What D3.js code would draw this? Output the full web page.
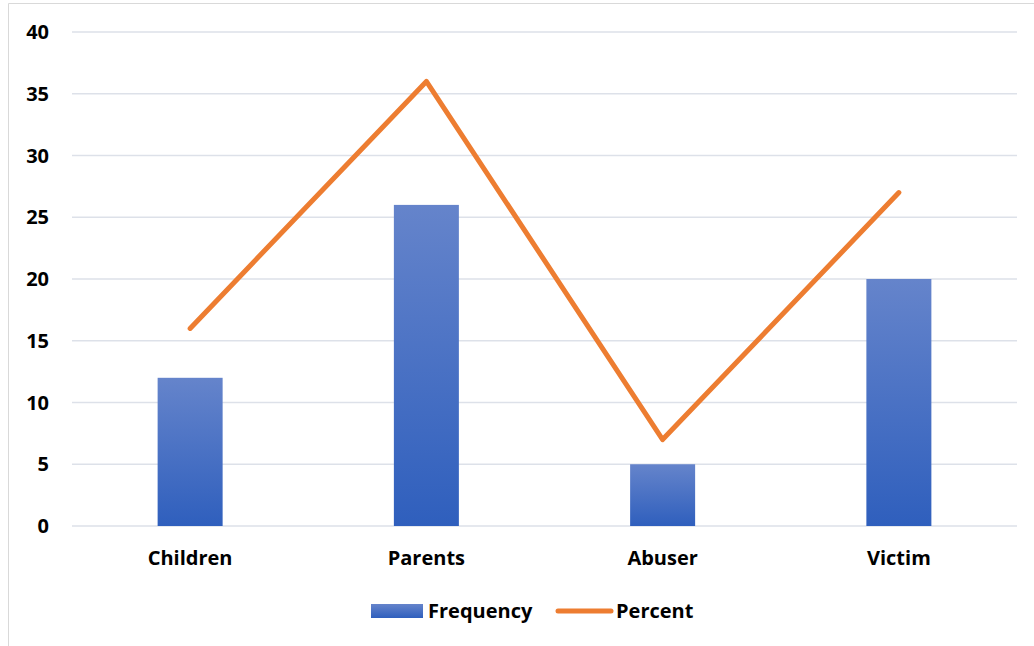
<!DOCTYPE html>
<html>
<head>
  <script src="https://d3js.org/d3.v7.min.js"></script>
  <style type="text/css">
    body { margin: 0; background: #fff; }
    text { font-family: "Open Sans", Lato, sans-serif; font-weight: bold; fill: #000; }
  </style>
</head>
<body>
<svg id="chart" width="1034" height="646"></svg>
<script type="text/javascript">
// chart data
const categories = ['Children', 'Parents', 'Abuser', 'Victim'];
const frequency = [12, 26, 5, 20];
const percent = [16, 36, 7, 27];
const yTicks = [0, 5, 10, 15, 20, 25, 30, 35, 40];

const svg = d3.select('#chart');

// outer frame (only top and left edges visible)
svg.append('path')
  .attr('d', 'M8.5,646 V3.5 H1034')
  .attr('fill', 'none')
  .attr('stroke', '#d9d9d9')
  .attr('stroke-width', 1);

const plotLeft = 72, plotRight = 1017, plotTop = 32, plotBottom = 526;

const x = d3.scaleBand().domain(categories).range([plotLeft, plotRight]);
const y = d3.scaleLinear().domain([0, 40]).range([plotBottom, plotTop]);

// gradient for bars
const defs = svg.append('defs');
const grad = defs.append('linearGradient')
  .attr('id', 'barGrad')
  .attr('x1', 0).attr('y1', 0).attr('x2', 0).attr('y2', 1);
grad.append('stop').attr('offset', '0%').attr('stop-color', '#6584cb');
grad.append('stop').attr('offset', '100%').attr('stop-color', '#2f5fbd');

// gridlines
svg.append('g')
  .selectAll('line')
  .data(yTicks)
  .enter()
  .append('line')
  .attr('x1', plotLeft)
  .attr('x2', plotRight)
  .attr('y1', d => y(d))
  .attr('y2', d => y(d))
  .attr('stroke', '#dde1e9')
  .attr('stroke-width', 1.5);

// y tick labels
svg.append('g')
  .selectAll('text')
  .data(yTicks)
  .enter()
  .append('text')
  .attr('x', 49)
  .attr('y', d => y(d))
  .attr('dy', '0.35em')
  .attr('text-anchor', 'end')
  .style('font-size', '20px')
  .text(d => d);

// bars
const barW = 65;
svg.append('g')
  .selectAll('rect')
  .data(frequency)
  .enter()
  .append('rect')
  .attr('x', (d, i) => x(categories[i]) + x.bandwidth() / 2 - barW / 2)
  .attr('y', d => y(d))
  .attr('width', barW)
  .attr('height', d => y(0) - y(d))
  .attr('fill', 'url(#barGrad)');

// percent line
const line = d3.line()
  .x((d, i) => x(categories[i]) + x.bandwidth() / 2)
  .y(d => y(d));

svg.append('path')
  .datum(percent)
  .attr('d', line)
  .attr('fill', 'none')
  .attr('stroke', '#ed7d31')
  .attr('stroke-width', 5)
  .attr('stroke-linejoin', 'round')
  .attr('stroke-linecap', 'round');

// x labels
svg.append('g')
  .selectAll('text')
  .data(categories)
  .enter()
  .append('text')
  .attr('x', d => x(d) + x.bandwidth() / 2)
  .attr('y', 565)
  .attr('text-anchor', 'middle')
  .style('font-size', '20px')
  .text(d => d);

// legend
const lg = svg.append('g');
lg.append('rect')
  .attr('x', 371).attr('y', 604)
  .attr('width', 52).attr('height', 14)
  .attr('fill', 'url(#barGrad)');
lg.append('text')
  .attr('x', 428).attr('y', 618)
  .style('font-size', '20px')
  .text('Frequency');
lg.append('line')
  .attr('x1', 558).attr('x2', 611)
  .attr('y1', 611).attr('y2', 611)
  .attr('stroke', '#ed7d31')
  .attr('stroke-width', 5)
  .attr('stroke-linecap', 'round');
lg.append('text')
  .attr('x', 616).attr('y', 618)
  .style('font-size', '20px')
  .text('Percent');
</script>
</body>
</html>
